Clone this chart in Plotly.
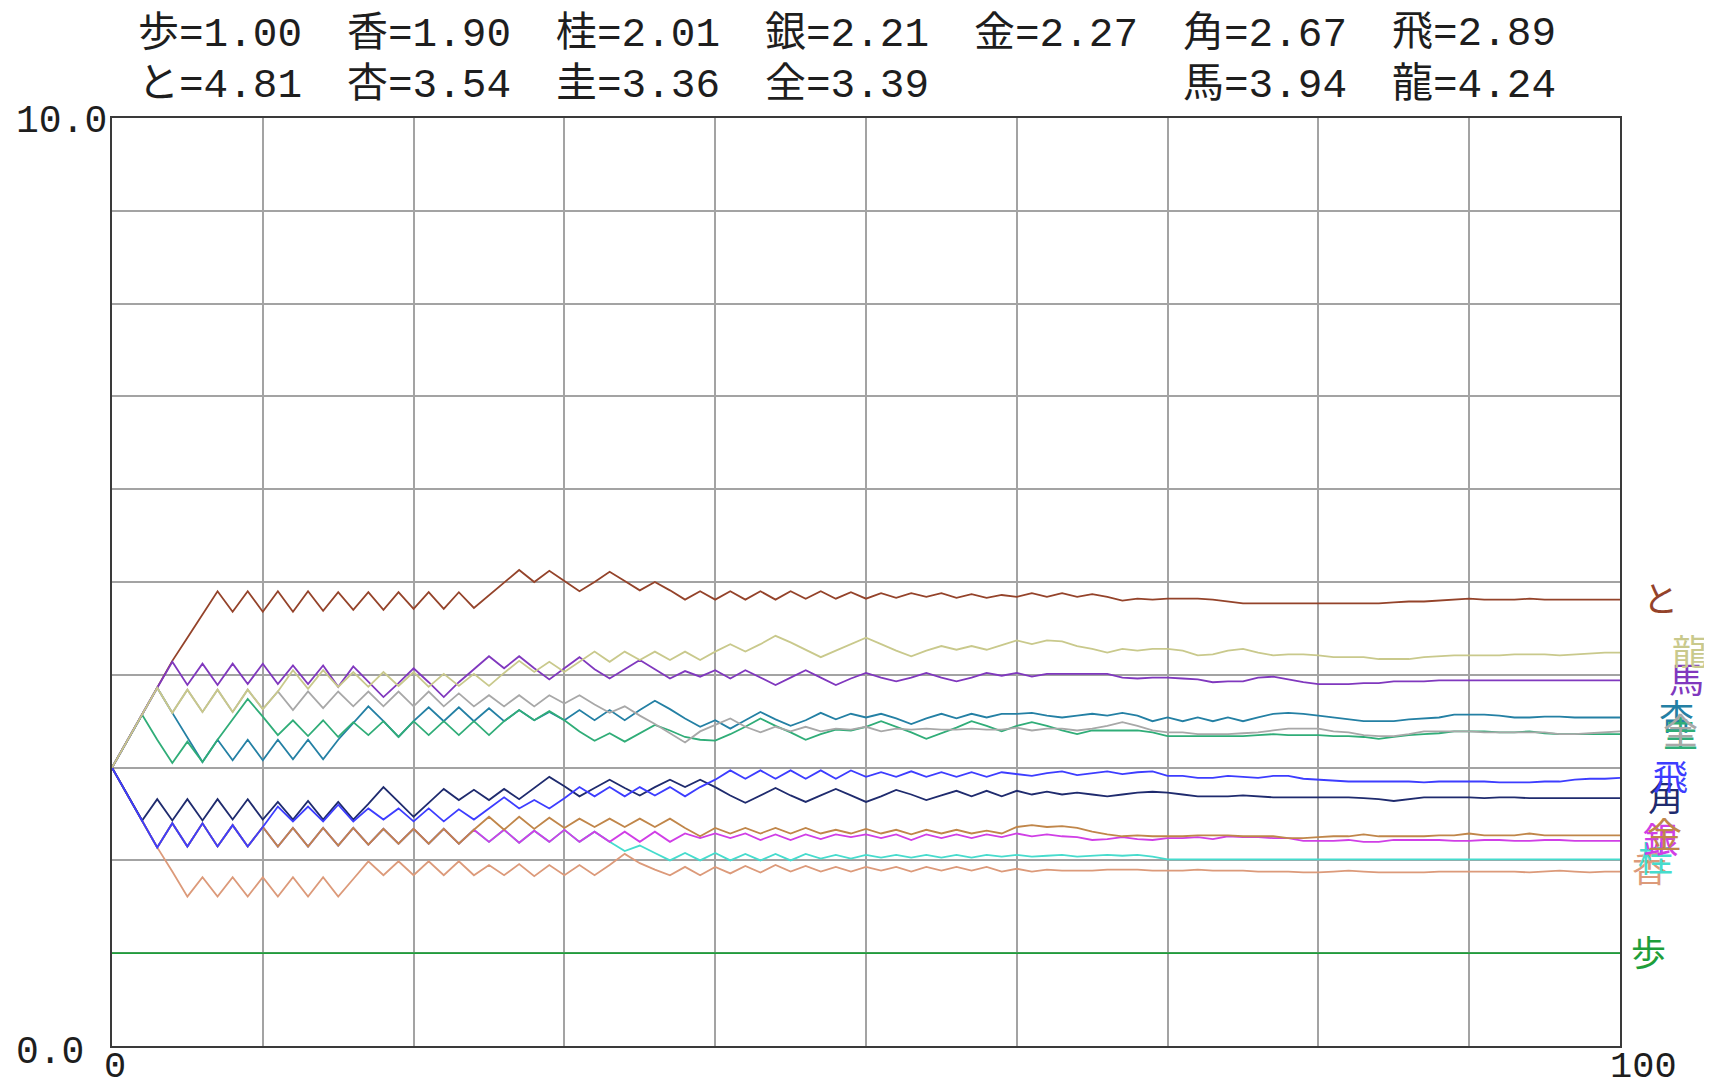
import plotly.graph_objects as go

# ---------------- data ----------------
STEPS = list(range(0, 101))

PIECES = ["歩", "香", "桂", "銀", "金", "角", "飛", "と", "杏", "圭", "全", "馬", "龍"]
FINAL = [1.00, 1.90, 2.01, 2.21, 2.27, 2.67, 2.89, 4.81, 3.54, 3.36, 3.39, 3.94, 4.24]

FU = [1.00, 1.00, 1.00, 1.00, 1.00, 1.00, 1.00, 1.00, 1.00, 1.00,
      1.00, 1.00, 1.00, 1.00, 1.00, 1.00, 1.00, 1.00, 1.00, 1.00,
      1.00, 1.00, 1.00, 1.00, 1.00, 1.00, 1.00, 1.00, 1.00, 1.00,
      1.00, 1.00, 1.00, 1.00, 1.00, 1.00, 1.00, 1.00, 1.00, 1.00,
      1.00, 1.00, 1.00, 1.00, 1.00, 1.00, 1.00, 1.00, 1.00, 1.00,
      1.00, 1.00, 1.00, 1.00, 1.00, 1.00, 1.00, 1.00, 1.00, 1.00,
      1.00, 1.00, 1.00, 1.00, 1.00, 1.00, 1.00, 1.00, 1.00, 1.00,
      1.00, 1.00, 1.00, 1.00, 1.00, 1.00, 1.00, 1.00, 1.00, 1.00,
      1.00, 1.00, 1.00, 1.00, 1.00, 1.00, 1.00, 1.00, 1.00, 1.00,
      1.00, 1.00, 1.00, 1.00, 1.00, 1.00, 1.00, 1.00, 1.00, 1.00,
      1.00]

KYO = [3.00, 2.71, 2.43, 2.14, 1.88, 1.61, 1.82, 1.61, 1.82, 1.61,
       1.82, 1.61, 1.82, 1.61, 1.82, 1.61, 1.80, 1.99, 1.84, 1.99,
       1.84, 1.99, 1.84, 1.99, 1.84, 1.95, 1.84, 1.96, 1.83, 1.95,
       1.84, 1.95, 1.84, 1.95, 2.07, 1.97, 1.90, 1.84, 1.93, 1.84,
       1.93, 1.86, 1.94, 1.87, 1.95, 1.88, 1.94, 1.88, 1.93, 1.88,
       1.93, 1.89, 1.93, 1.88, 1.93, 1.89, 1.93, 1.89, 1.93, 1.88,
       1.91, 1.88, 1.90, 1.89, 1.89, 1.89, 1.90, 1.90, 1.90, 1.89,
       1.89, 1.89, 1.90, 1.89, 1.89, 1.89, 1.88, 1.88, 1.88, 1.87,
       1.87, 1.88, 1.89, 1.88, 1.87, 1.87, 1.87, 1.87, 1.88, 1.88,
       1.88, 1.88, 1.88, 1.88, 1.87, 1.88, 1.89, 1.88, 1.87, 1.88,
       1.88]

KEI = [3.00, 2.71, 2.43, 2.14, 2.40, 2.15, 2.40, 2.15, 2.38, 2.15,
       2.36, 2.15, 2.35, 2.15, 2.35, 2.16, 2.35, 2.17, 2.34, 2.18,
       2.34, 2.18, 2.34, 2.18, 2.33, 2.20, 2.33, 2.19, 2.32, 2.20,
       2.33, 2.20, 2.31, 2.20, 2.10, 2.16, 2.08, 2.00, 2.08, 2.00,
       2.08, 2.00, 2.07, 2.00, 2.07, 2.00, 2.07, 2.02, 2.06, 2.02,
       2.06, 2.03, 2.06, 2.03, 2.06, 2.03, 2.06, 2.03, 2.06, 2.04,
       2.06, 2.04, 2.05, 2.06, 2.04, 2.05, 2.06, 2.05, 2.06, 2.04,
       2.01, 2.01, 2.01, 2.01, 2.01, 2.01, 2.01, 2.01, 2.01, 2.01,
       2.01, 2.01, 2.01, 2.01, 2.01, 2.01, 2.01, 2.01, 2.01, 2.01,
       2.01, 2.01, 2.01, 2.01, 2.01, 2.01, 2.01, 2.01, 2.01, 2.01,
       2.01]

GIN = [3.00, 2.71, 2.43, 2.14, 2.40, 2.15, 2.40, 2.15, 2.38, 2.15,
       2.36, 2.15, 2.35, 2.15, 2.35, 2.16, 2.35, 2.17, 2.34, 2.18,
       2.34, 2.18, 2.34, 2.18, 2.33, 2.20, 2.33, 2.19, 2.32, 2.20,
       2.33, 2.20, 2.31, 2.20, 2.31, 2.20, 2.31, 2.20, 2.29, 2.24,
       2.29, 2.24, 2.29, 2.22, 2.28, 2.22, 2.28, 2.23, 2.28, 2.25,
       2.28, 2.24, 2.28, 2.22, 2.28, 2.24, 2.28, 2.24, 2.28, 2.25,
       2.29, 2.26, 2.28, 2.26, 2.25, 2.22, 2.23, 2.25, 2.23, 2.22,
       2.24, 2.24, 2.25, 2.23, 2.26, 2.25, 2.25, 2.24, 2.24, 2.21,
       2.21, 2.21, 2.22, 2.20, 2.20, 2.22, 2.22, 2.22, 2.22, 2.21,
       2.21, 2.22, 2.22, 2.21, 2.21, 2.22, 2.22, 2.21, 2.21, 2.21,
       2.21]

KIN = [3.00, 2.71, 2.43, 2.14, 2.40, 2.15, 2.40, 2.15, 2.38, 2.15,
       2.36, 2.15, 2.35, 2.15, 2.35, 2.16, 2.35, 2.17, 2.34, 2.18,
       2.34, 2.18, 2.34, 2.18, 2.33, 2.47, 2.33, 2.47, 2.34, 2.46,
       2.35, 2.45, 2.36, 2.45, 2.36, 2.45, 2.36, 2.45, 2.35, 2.26,
       2.35, 2.29, 2.35, 2.29, 2.35, 2.29, 2.35, 2.29, 2.33, 2.29,
       2.34, 2.29, 2.33, 2.28, 2.33, 2.29, 2.33, 2.29, 2.32, 2.29,
       2.36, 2.38, 2.36, 2.37, 2.35, 2.31, 2.28, 2.26, 2.27, 2.26,
       2.26, 2.26, 2.27, 2.27, 2.27, 2.26, 2.26, 2.26, 2.24, 2.24,
       2.25, 2.26, 2.26, 2.28, 2.26, 2.26, 2.26, 2.26, 2.27, 2.27,
       2.29, 2.27, 2.27, 2.27, 2.29, 2.27, 2.27, 2.27, 2.27, 2.27,
       2.27]

KAKU = [3.00, 2.71, 2.43, 2.66, 2.43, 2.66, 2.43, 2.66, 2.44, 2.66,
        2.44, 2.63, 2.44, 2.64, 2.44, 2.63, 2.44, 2.61, 2.79, 2.63,
        2.47, 2.62, 2.77, 2.65, 2.76, 2.65, 2.77, 2.66, 2.78, 2.90,
        2.80, 2.69, 2.78, 2.87, 2.78, 2.70, 2.79, 2.87, 2.79, 2.87,
        2.79, 2.70, 2.62, 2.70, 2.78, 2.70, 2.63, 2.70, 2.77, 2.70,
        2.63, 2.69, 2.76, 2.71, 2.65, 2.70, 2.75, 2.69, 2.75, 2.69,
        2.75, 2.71, 2.74, 2.71, 2.73, 2.71, 2.69, 2.71, 2.73, 2.74,
        2.73, 2.71, 2.69, 2.69, 2.69, 2.70, 2.69, 2.68, 2.68, 2.68,
        2.68, 2.68, 2.68, 2.67, 2.66, 2.64, 2.66, 2.68, 2.68, 2.68,
        2.68, 2.67, 2.68, 2.68, 2.67, 2.67, 2.67, 2.67, 2.67, 2.67,
        2.67]

HI = [3.00, 2.71, 2.43, 2.14, 2.40, 2.15, 2.40, 2.15, 2.38, 2.15,
      2.36, 2.58, 2.42, 2.58, 2.42, 2.60, 2.42, 2.56, 2.44, 2.56,
      2.42, 2.56, 2.42, 2.55, 2.44, 2.56, 2.68, 2.56, 2.65, 2.56,
      2.67, 2.79, 2.69, 2.79, 2.69, 2.79, 2.70, 2.79, 2.69, 2.79,
      2.87, 2.97, 2.88, 2.97, 2.88, 2.97, 2.88, 2.97, 2.88, 2.97,
      2.90, 2.95, 2.90, 2.96, 2.90, 2.95, 2.90, 2.95, 2.90, 2.95,
      2.93, 2.91, 2.94, 2.96, 2.92, 2.94, 2.96, 2.93, 2.95, 2.96,
      2.91, 2.91, 2.89, 2.89, 2.91, 2.90, 2.89, 2.91, 2.91, 2.88,
      2.87, 2.86, 2.85, 2.85, 2.85, 2.85, 2.85, 2.84, 2.85, 2.85,
      2.85, 2.85, 2.84, 2.84, 2.84, 2.85, 2.85, 2.87, 2.88, 2.88,
      2.89]

TO = [3.00, 3.29, 3.57, 3.86, 4.15, 4.40, 4.65, 4.90, 4.68, 4.90,
      4.68, 4.90, 4.68, 4.90, 4.69, 4.89, 4.70, 4.89, 4.70, 4.89,
      4.71, 4.89, 4.71, 4.89, 4.72, 4.86, 5.00, 5.13, 5.00, 5.12,
      5.01, 4.90, 5.00, 5.11, 5.01, 4.91, 5.00, 4.91, 4.81, 4.90,
      4.81, 4.90, 4.81, 4.90, 4.81, 4.90, 4.82, 4.90, 4.82, 4.89,
      4.82, 4.88, 4.83, 4.88, 4.84, 4.88, 4.83, 4.87, 4.83, 4.86,
      4.84, 4.88, 4.84, 4.88, 4.84, 4.87, 4.84, 4.80, 4.82, 4.81,
      4.82, 4.82, 4.82, 4.81, 4.79, 4.77, 4.77, 4.77, 4.77, 4.77,
      4.77, 4.77, 4.77, 4.77, 4.77, 4.78, 4.79, 4.79, 4.80, 4.81,
      4.82, 4.81, 4.81, 4.81, 4.82, 4.81, 4.81, 4.81, 4.81, 4.81,
      4.81]

ANZU = [3.00, 3.29, 3.57, 3.86, 3.59, 3.32, 3.06, 3.30, 3.08, 3.30,
        3.08, 3.30, 3.09, 3.30, 3.09, 3.30, 3.48, 3.66, 3.50, 3.33,
        3.50, 3.65, 3.50, 3.65, 3.50, 3.64, 3.50, 3.62, 3.51, 3.60,
        3.51, 3.62, 3.51, 3.62, 3.51, 3.62, 3.72, 3.63, 3.53, 3.44,
        3.51, 3.42, 3.51, 3.60, 3.52, 3.45, 3.51, 3.59, 3.52, 3.58,
        3.54, 3.58, 3.53, 3.47, 3.53, 3.58, 3.53, 3.58, 3.54, 3.58,
        3.58, 3.59, 3.56, 3.54, 3.56, 3.58, 3.56, 3.59, 3.56, 3.50,
        3.54, 3.50, 3.54, 3.50, 3.54, 3.50, 3.54, 3.58, 3.59, 3.58,
        3.56, 3.54, 3.52, 3.50, 3.50, 3.50, 3.52, 3.53, 3.54, 3.57,
        3.57, 3.57, 3.56, 3.54, 3.54, 3.55, 3.55, 3.54, 3.54, 3.54,
        3.54]

KEIN = [3.00, 3.29, 3.57, 3.30, 3.05, 3.28, 3.06, 3.30, 3.52, 3.74,
        3.55, 3.35, 3.51, 3.34, 3.51, 3.33, 3.49, 3.35, 3.50, 3.33,
        3.50, 3.35, 3.50, 3.35, 3.50, 3.35, 3.50, 3.62, 3.51, 3.61,
        3.51, 3.39, 3.29, 3.37, 3.28, 3.37, 3.46, 3.40, 3.33, 3.30,
        3.29, 3.36, 3.44, 3.53, 3.45, 3.38, 3.30, 3.36, 3.41, 3.40,
        3.44, 3.50, 3.44, 3.38, 3.31, 3.37, 3.43, 3.50, 3.45, 3.39,
        3.45, 3.49, 3.45, 3.40, 3.36, 3.40, 3.40, 3.40, 3.40, 3.38,
        3.34, 3.34, 3.34, 3.34, 3.34, 3.34, 3.35, 3.36, 3.35, 3.35,
        3.35, 3.34, 3.34, 3.33, 3.31, 3.33, 3.35, 3.36, 3.37, 3.39,
        3.39, 3.39, 3.38, 3.38, 3.39, 3.37, 3.36, 3.36, 3.36, 3.36,
        3.36]

ZEN = [3.00, 3.29, 3.57, 3.86, 3.59, 3.84, 3.60, 3.84, 3.60, 3.84,
       3.63, 3.82, 3.62, 3.82, 3.64, 3.82, 3.66, 3.82, 3.66, 3.82,
       3.66, 3.82, 3.66, 3.80, 3.66, 3.78, 3.66, 3.78, 3.66, 3.78,
       3.69, 3.78, 3.68, 3.59, 3.66, 3.56, 3.47, 3.37, 3.27, 3.39,
       3.46, 3.53, 3.44, 3.38, 3.44, 3.39, 3.44, 3.39, 3.42, 3.41,
       3.44, 3.39, 3.42, 3.41, 3.42, 3.41, 3.41, 3.42, 3.41, 3.41,
       3.43, 3.40, 3.42, 3.42, 3.40, 3.42, 3.45, 3.49, 3.45, 3.40,
       3.38, 3.38, 3.36, 3.36, 3.36, 3.37, 3.38, 3.40, 3.42, 3.42,
       3.42, 3.39, 3.38, 3.35, 3.34, 3.34, 3.36, 3.39, 3.39, 3.39,
       3.39, 3.38, 3.38, 3.38, 3.38, 3.38, 3.36, 3.36, 3.37, 3.38,
       3.39]

UMA = [3.00, 3.29, 3.57, 3.86, 4.14, 3.89, 4.12, 3.89, 4.12, 3.90,
       4.12, 3.90, 4.10, 3.90, 4.10, 3.87, 4.09, 3.93, 3.76, 3.91,
       4.07, 3.92, 3.76, 3.92, 4.06, 4.20, 4.07, 4.20, 4.07, 3.95,
       4.07, 4.19, 4.06, 3.96, 4.06, 4.16, 4.06, 3.96, 4.04, 3.98,
       4.05, 3.96, 4.05, 3.97, 3.89, 3.97, 4.05, 3.97, 3.89, 3.96,
       4.02, 3.97, 3.93, 3.97, 4.02, 3.97, 3.93, 3.97, 4.02, 3.99,
       4.02, 3.98, 4.01, 4.01, 4.01, 4.01, 4.01, 3.97, 3.96, 3.97,
       3.97, 3.96, 3.95, 3.92, 3.93, 3.93, 3.97, 3.98, 3.95, 3.92,
       3.90, 3.90, 3.90, 3.91, 3.91, 3.93, 3.93, 3.93, 3.94, 3.94,
       3.94, 3.94, 3.94, 3.94, 3.94, 3.94, 3.94, 3.94, 3.94, 3.94,
       3.94]

RYU = [3.00, 3.29, 3.57, 3.86, 3.59, 3.84, 3.60, 3.84, 3.60, 3.84,
       3.63, 3.82, 4.05, 3.85, 4.05, 3.87, 4.03, 3.87, 4.03, 3.88,
       4.03, 3.87, 4.01, 3.88, 4.01, 3.88, 4.02, 4.15, 4.03, 4.14,
       4.03, 4.14, 4.25, 4.14, 4.25, 4.16, 4.25, 4.16, 4.25, 4.16,
       4.25, 4.33, 4.25, 4.33, 4.42, 4.35, 4.27, 4.19, 4.26, 4.33,
       4.40, 4.33, 4.26, 4.20, 4.26, 4.31, 4.27, 4.31, 4.27, 4.32,
       4.37, 4.33, 4.37, 4.36, 4.31, 4.28, 4.24, 4.28, 4.26, 4.28,
       4.28, 4.26, 4.21, 4.22, 4.26, 4.28, 4.24, 4.21, 4.22, 4.22,
       4.21, 4.19, 4.19, 4.19, 4.17, 4.17, 4.17, 4.19, 4.20, 4.21,
       4.21, 4.21, 4.21, 4.22, 4.22, 4.22, 4.21, 4.22, 4.23, 4.24,
       4.24]

SERIES = [FU, KYO, KEI, GIN, KIN, KAKU, HI, TO, ANZU, KEIN, ZEN, UMA, RYU]

# ---------------- style / layout ----------------
COLORS = ["#1E9E3A", "#DC9A7A", "#46DCCD", "#D03FE6", "#C0864A", "#1F2B6E",
          "#3D3DFF", "#94432A", "#2480A4", "#30AD78", "#A8A8A8", "#8038BE", "#C9C98C"]

W, H = 1712, 1084
BODY = 8                                # default page margin around the plot div
PL, PR, PT, PB = 112, 1620, 118, 1046   # plot area in page pixels
MONO = "Liberation Mono, Noto Sans CJK JP, monospace"
TEXT_COLOR = "#1E1E1E"

# header grid: (row, col) per piece
HEADER_POS = {"歩": (0, 0), "香": (0, 1), "桂": (0, 2), "銀": (0, 3), "金": (0, 4),
              "角": (0, 5), "飛": (0, 6), "と": (1, 0), "杏": (1, 1), "圭": (1, 2),
              "全": (1, 3), "馬": (1, 5), "龍": (1, 6)}
HEADER_X0, HEADER_DX = 136, 209.0
HEADER_Y0, HEADER_DY = 34, 52

# right-side label centre x (page pixels)
LABEL_X = {"歩": 1648, "香": 1649, "桂": 1655, "銀": 1660, "金": 1664, "角": 1665,
           "飛": 1670, "と": 1660, "杏": 1676, "圭": 1680, "全": 1680, "馬": 1686, "龍": 1689}


def px_to_paper_x(px):
    return (px - PL) / (PR - PL)


def px_to_paper_y(py):
    return (PB - py) / (PB - PT)


fig = go.Figure()
for name, ys, col in zip(PIECES, SERIES, COLORS):
    fig.add_trace(go.Scatter(x=STEPS, y=ys, mode="lines", name=name,
                             line=dict(color=col, width=1.8), hoverinfo="skip"))

ann = []
# header
for name, val in zip(PIECES, FINAL):
    r, c = HEADER_POS[name]
    ann.append(dict(xref="paper", yref="paper",
                    x=px_to_paper_x(HEADER_X0 + c * HEADER_DX),
                    y=px_to_paper_y(HEADER_Y0 + r * HEADER_DY),
                    xanchor="left", yanchor="middle", showarrow=False,
                    text=f"{name}={val:.2f}",
                    font=dict(family=MONO, size=41, color=TEXT_COLOR)))

# right-side labels at the final value of each line
for name, val, col in zip(PIECES, FINAL, COLORS):
    ann.append(dict(xref="paper", yref="y", x=1, xshift=LABEL_X[name] - PR,
                    y=val, yshift=3, xanchor="center", yanchor="middle",
                    showarrow=False, text=name,
                    font=dict(family="Noto Sans CJK JP", size=35, color=col)))

# axis end labels
ann.append(dict(xref="paper", yref="paper", x=0, xshift=14 - PL, y=1, yshift=-3,
                xanchor="left", yanchor="middle", showarrow=False, text="10.0",
                font=dict(family=MONO, size=38, color=TEXT_COLOR)))
ann.append(dict(xref="paper", yref="paper", x=0, xshift=14 - PL, y=0, yshift=-6,
                xanchor="left", yanchor="middle", showarrow=False, text="0.0",
                font=dict(family=MONO, size=38, color=TEXT_COLOR)))
ann.append(dict(xref="x", yref="paper", x=0, xshift=-10, y=0, yshift=-21,
                xanchor="left", yanchor="middle", showarrow=False, text="0",
                font=dict(family=MONO, size=37, color=TEXT_COLOR)))
ann.append(dict(xref="x", yref="paper", x=100, xshift=-12, y=0, yshift=-21,
                xanchor="left", yanchor="middle", showarrow=False, text="100",
                font=dict(family=MONO, size=37, color=TEXT_COLOR)))

axis_common = dict(showgrid=True, gridcolor="#A3A3A3", gridwidth=1.7,
                   zeroline=False, showline=True, linecolor="#3A3A3A", linewidth=2,
                   mirror=True, ticks="", showticklabels=False, fixedrange=True)

fig.update_layout(
    width=W, height=H, autosize=False,
    margin=dict(l=PL - BODY, r=W - PR + BODY, t=PT - BODY, b=H - PB + BODY, pad=0),
    paper_bgcolor="white", plot_bgcolor="white",
    showlegend=False,
    xaxis=dict(range=[0, 100], dtick=10, tick0=0, **axis_common),
    yaxis=dict(range=[0, 10], dtick=1, tick0=0, **axis_common),
    annotations=ann,
)

fig.write_html("out.html")
